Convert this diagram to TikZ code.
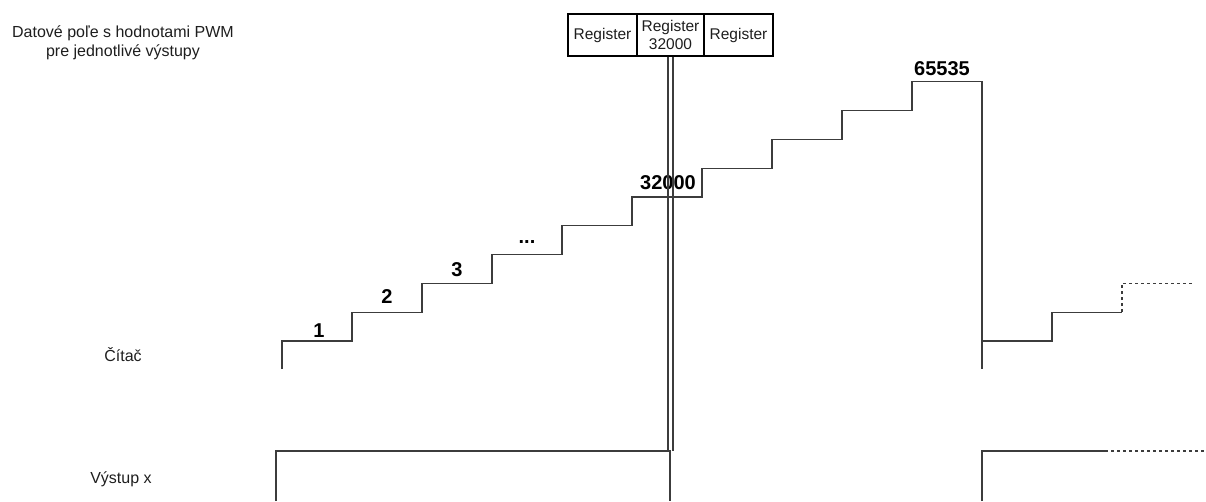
\documentclass[tikz,border=0pt]{standalone}
\usepackage{fontspec}
\setmainfont{Liberation Sans}
\definecolor{linec}{RGB}{60,60,60}
\definecolor{txt}{RGB}{30,30,30}
\begin{document}
\begin{tikzpicture}[x=1pt,y=-1pt,
  line/.style={draw=linec, line width=1.2pt},
  dline/.style={line, dash pattern=on 3pt off 3pt},
  lbl/.style={font=\fontsize{16}{19}\selectfont, text=txt, inner sep=0pt, align=center},
  num/.style={font=\bfseries\fontsize{20}{22}\selectfont, text=black, inner sep=0pt},
  regbox/.style={draw=black, line width=1.2pt, minimum height=42pt, inner sep=0pt, align=center,
    font=\fontsize{15.5}{18}\selectfont, text=txt}]
\useasboundingbox (0,0) rectangle (1206,501);

% left labels
\node[lbl] (title) at (123,43) {Datové poľe s hodnotami PWM\\pre jednotlivé výstupy};
\node[lbl] (citac) at (123,355) {Čítač};
\node[lbl] (vystup) at (121,479) {Výstup x};

% registers
\node[regbox, minimum width=69pt] (r1) at (602.5,35) {Register};
\node[regbox, minimum width=67pt] (r2) at (670.5,35) {Register\\32000};
\node[regbox, minimum width=69pt] (r3) at (738.5,35) {Register};

% counter staircase
\coordinate (c0) at (282,369);
\draw[line] (c0) -- (282,341) -- (352,341) -- (352,312.2) -- (422,312.2) -- (422,283.4)
  -- (492,283.4) -- (492,254.6) -- (562,254.6) -- (562,225.8) -- (632,225.8) -- (632,197)
  -- (702,197) -- (702,168.2) -- (772,168.2) -- (772,139.4) -- (842,139.4) -- (842,110.6)
  -- (912,110.6) -- (912,81.8) -- (982,81.8) -- (982,369);
\draw[line] (982,341) -- (1052,341) -- (1052,312.2) -- (1122,312.2);
\draw[dline] (1122,312.2) -- (1122,283.4) -- (1193,283.4);

% step labels
\node[num] (n1) at (319,331) {1};
\node[num] (n2) at (387,297) {2};
\node[num] (n3) at (457,270) {3};
\node[num] (n4) at (527,242) {...};
\node[num] (n5) at (668,183) {32000};
\node[num] (n6) at (942,69) {65535};

% output
\coordinate (o1) at (670,451);
\draw[line] (276,501) -- (276,451) -- (o1) -- (670,501);
\coordinate (o2) at (982,451);
\draw[line] (982,501) -- (o2) -- (1105,451);
\draw[dline] (1105,451) -- (1206,451);

% double line from register
\draw[line] ([xshift=-2.5pt]r2.south) -- ([xshift=-2.5pt]r2.south |- o1);
\draw[line] ([xshift=2.5pt]r2.south) -- ([xshift=2.5pt]r2.south |- o1);
\end{tikzpicture}
\end{document}
